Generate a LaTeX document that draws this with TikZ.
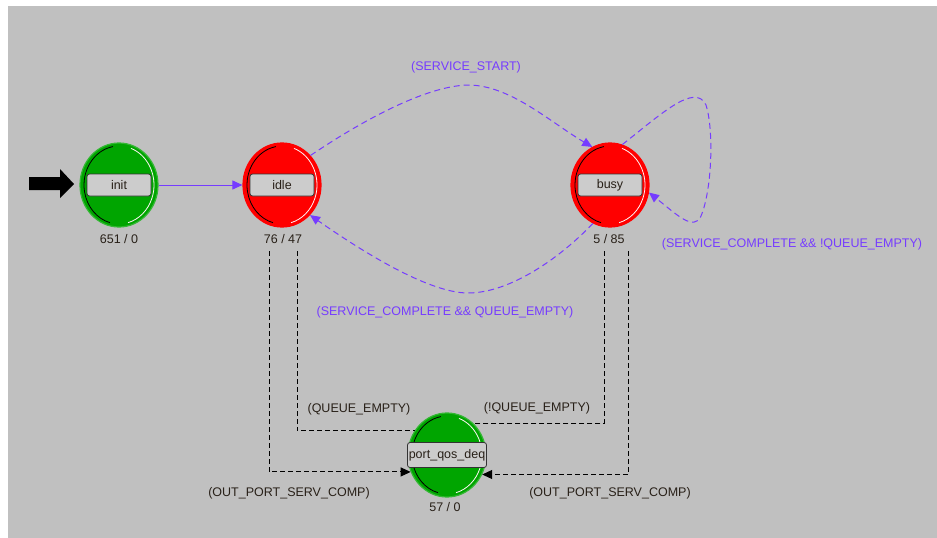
\documentclass[tikz,border=0pt]{standalone}
\usepackage{fontspec}
\setmainfont{Liberation Sans}
\usetikzlibrary{shapes.geometric,arrows.meta}
\definecolor{bg}{RGB}{192,192,192}
\definecolor{trans}{RGB}{118,60,255}
\definecolor{sgreen}{RGB}{0,165,0}
\definecolor{sred}{RGB}{255,0,0}
\definecolor{boxfill}{RGB}{204,204,204}
\definecolor{ink}{RGB}{40,32,24}
\begin{document}
\begin{tikzpicture}[x=1pt,y=-1pt,font=\fontsize{12.5}{15}\selectfont,
  state/.style={ellipse,minimum width=78pt,minimum height=84pt,inner sep=0pt,line width=1.2pt},
  gstate/.style={state,fill=sgreen,draw=sgreen!80!white},
  rstate/.style={state,fill=sred,draw=sred},
  lbox/.style={draw=black!80,fill=boxfill,rounded corners=2.5pt,minimum width=64pt,minimum height=22pt,inner sep=0pt,line width=0.8pt,text=ink},
  cnt/.style={text=ink,inner sep=1pt},
  tlab/.style={text=trans,inner sep=1pt},
  clab/.style={text=ink,inner sep=1pt},
  ttr/.style={draw=trans,dash pattern=on 6pt off 4pt,line width=1pt,-{Triangle[length=10pt,width=9pt,fill=trans]}},
  ctr/.style={draw=black,dash pattern=on 5pt off 3pt,line width=0.9pt},
  carr/.style={ctr,-{Triangle[length=10pt,width=9pt,fill=black]}}
]
\useasboundingbox (0,0) rectangle (937,538);
\fill[white] (0,0) rectangle (937,538);
\fill[bg] (8,6) rectangle (937,538);

% states
\node[gstate] (init) at (119,185) {};
\node[rstate] (idle) at (282,185) {};
\node[rstate] (busy) at (610,185) {};
\node[gstate] (port) at (447,455) {};

% inner 3D rings
\foreach \n in {init,idle,busy,port}{
  \draw[black,line width=0.8pt] (\n) ++(-100:35 and 39) arc[start angle=-100,end angle=-255,x radius=35,y radius=39];
  \draw[white!85!pink,line width=0.8pt] (\n) ++(-70:35 and 39) arc[start angle=-70,end angle=75,x radius=35,y radius=39];
}

% label boxes
\node[lbox] (initbox) at (init) {init};
\node[lbox] (idlebox) at (idle) {idle};
\node[lbox] (busybox) at (busy) {busy};
\node[lbox,minimum width=79pt,minimum height=25pt] (portbox) at (port) {port\_qos\_deq};

% counts
\node[cnt] (initcnt) at (119,239) {651 / 0};
\node[cnt] (idlecnt) at (283,239) {76 / 47};
\node[cnt] (busycnt) at (609,239) {5 / 85};
\node[cnt] (portcnt) at (445,507) {57 / 0};

% initial arrow
\fill[black] (29,177) -- (60,177) -- (60,169) -- (74,184) -- (60,198) -- (60,190) -- (29,190) -- cycle;

% transitions
\draw[ttr,solid] (init.east) -- (idle.west);
\draw[ttr] (idle.46) .. controls (360,122) and (425,86) .. (468,85)
  .. controls (510,85) and (550,122) .. (busy.115);
\draw[ttr] (busy.73) .. controls (660,115) and (695,82) .. (706,105)
  .. controls (714,130) and (712,190) .. (701,216)
  .. controls (694,232) and (676,214) .. (busy.-11);
\draw[ttr] (busy.246) .. controls (560,258) and (510,293) .. (468,293)
  .. controls (428,293) and (360,250) .. (idle.313);

\coordinate (idleo) at (269,251);
\coordinate (idlei) at (297,251);
\coordinate (busyi) at (604,251);
\coordinate (busyo) at (628,251);
\draw[carr] (idleo) |- (port.205);
\draw[ctr] (idlei) |- (port.143);
\draw[ctr] (busyi) |- (port.50);
\draw[carr] (busyo) |- (port.-29);

% labels
\node[tlab] (lss) at (466,67) {(SERVICE\_START)};
\node[tlab] (lscn) at (792,244) {(SERVICE\_COMPLETE \&\& !QUEUE\_EMPTY)};
\node[tlab] (lsce) at (445,312) {(SERVICE\_COMPLETE \&\& QUEUE\_EMPTY)};
\node[clab] (lqe) at (359,409) {(QUEUE\_EMPTY)};
\node[clab] (lnqe) at (537,408) {(!QUEUE\_EMPTY)};
\node[clab] (lop1) at (289,493) {(OUT\_PORT\_SERV\_COMP)};
\node[clab] (lop2) at (610,493) {(OUT\_PORT\_SERV\_COMP)};
\end{tikzpicture}
\end{document}
